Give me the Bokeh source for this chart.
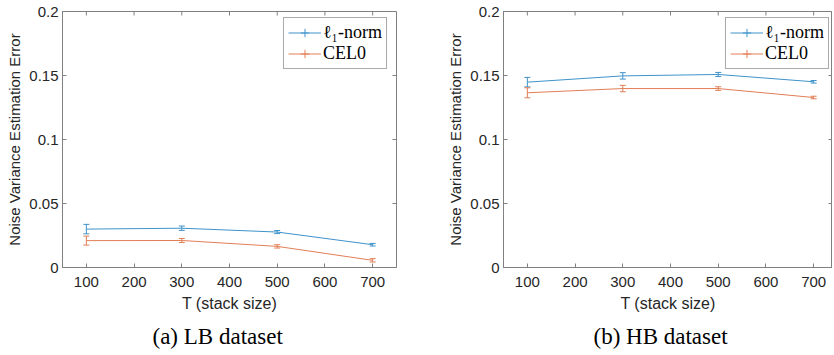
import math
from bokeh.plotting import figure
from bokeh.models import (ColumnDataSource, Whisker, TeeHead, Legend, LegendItem,
                          FixedTicker, Range1d, Title)
from bokeh.layouts import row
from bokeh.embed import file_html
from bokeh.resources import INLINE

# ---------------- data ----------------
T = [100, 300, 500, 700]
lb_l1 = [0.0300, 0.0307, 0.0277, 0.0178]
lb_l1_err = [0.0037, 0.0017, 0.0012, 0.0010]
lb_cel0 = [0.0210, 0.0211, 0.0165, 0.0056]
lb_cel0_err = [0.0035, 0.0016, 0.0013, 0.0013]
hb_l1 = [0.1448, 0.1497, 0.1508, 0.1451]
hb_l1_err = [0.0037, 0.0025, 0.0016, 0.0010]
hb_cel0 = [0.1365, 0.1398, 0.1398, 0.1328]
hb_cel0_err = [0.0039, 0.0025, 0.0014, 0.0010]
x_ticks = [100, 200, 300, 400, 500, 600, 700]
y_ticks = [0, 0.05, 0.1, 0.15, 0.2]
y_tick_labels = ["0", "0.05", "0.1", "0.15", "0.2"]
series_labels = ["\u2113\u2081-norm", "CEL0"]
captions = ["(a) LB dataset", "(b) HB dataset"]
x_label = "T (stack size)"
y_label = "Noise Variance Estimation Error"

BLUE = "#3f93cb"
ORANGE = "#e27e56"
AXIS = "#808080"
TEXT = "#262626"


def make_panel(caption, l1, l1e, cel, cele, frame_w, x_end, legend_x, border_right):
    x0, y0, y1 = 50, 0, 0.2
    p = figure(frame_width=frame_w, frame_height=256,
               x_range=Range1d(x0, x_end), y_range=Range1d(y0, y1),
               output_backend="svg", toolbar_location=None,
               min_border_left=62, min_border_right=border_right,
               min_border_top=11, min_border_bottom=86)
    p.xgrid.visible = False
    p.ygrid.visible = False
    p.outline_line_color = AXIS
    p.outline_line_width = 1
    p.background_fill_color = "white"
    p.border_fill_color = "white"

    p.xaxis.ticker = FixedTicker(ticks=x_ticks)
    p.yaxis.ticker = FixedTicker(ticks=y_ticks)
    p.yaxis.major_label_overrides = {t: s for t, s in zip(y_ticks, y_tick_labels)}
    for ax in (p.xaxis[0], p.yaxis[0]):
        ax.axis_line_color = AXIS
        ax.major_tick_line_color = AXIS
        ax.major_tick_in = 4
        ax.major_tick_out = 0
        ax.minor_tick_line_color = None
        ax.major_label_text_font = "Liberation Sans"
        ax.major_label_text_font_size = "15px"
        ax.major_label_text_color = TEXT
        ax.axis_label_text_font = "Liberation Sans"
        ax.axis_label_text_font_style = "normal"
        ax.axis_label_text_color = TEXT
    p.xaxis.major_label_standoff = 9
    p.yaxis.major_label_standoff = 4
    p.xaxis.axis_label = x_label
    p.xaxis.axis_label_text_font_size = "16px"
    p.xaxis.axis_label_standoff = 5
    p.yaxis.axis_label = y_label
    p.yaxis.axis_label_text_font_size = "15px"
    p.yaxis.axis_label_standoff = 3

    # box ticks on top and right edges (inward)
    p.ray(x=x_ticks, y=[y1] * len(x_ticks), length=4, length_units="screen",
          angle=-math.pi / 2, line_color=AXIS, line_width=1)
    p.ray(x=[x_end] * len(y_ticks), y=y_ticks, length=4, length_units="screen",
          angle=math.pi, line_color=AXIS, line_width=1)

    items = []
    for vals, errs, color, label in ((l1, l1e, BLUE, series_labels[0]),
                                      (cel, cele, ORANGE, series_labels[1])):
        src = ColumnDataSource(dict(x=T, y=vals,
                                    upper=[v + e for v, e in zip(vals, errs)],
                                    lower=[v - e for v, e in zip(vals, errs)]))
        lr = p.line("x", "y", source=src, line_color=color, line_width=1)
        w = Whisker(base="x", upper="upper", lower="lower", source=src,
                    dimension="height", line_color=color, line_width=1,
                    upper_head=TeeHead(size=6, line_color=color, line_width=1),
                    lower_head=TeeHead(size=6, line_color=color, line_width=1))
        p.add_layout(w)
        mr = p.scatter("x", "y", source=src, marker="cross", size=0,
                       line_color=color, line_width=1)
        items.append(LegendItem(label=label, renderers=[lr, mr]))

    leg = Legend(items=items, location=(legend_x, 198),
                 label_text_font="Liberation Serif", label_text_font_size="18px",
                 label_text_color="black", glyph_width=33, glyph_height=21,
                 label_height=21, label_standoff=2, padding=4, spacing=0,
                 margin=0, border_line_color="#555555", border_line_width=1,
                 background_fill_color="white", background_fill_alpha=1)
    p.add_layout(leg)

    p.add_layout(Title(text=caption, align="left", offset=90,
                       text_font="Liberation Serif", text_font_size="23px",
                       text_font_style="normal", text_color="black",
                       standoff=14), "below")
    return p


p1 = make_panel(captions[0], lb_l1, lb_l1_err, lb_cel0, lb_cel0_err,
                334, 750, 221, 45)
p2 = make_panel(captions[1], hb_l1, hb_l1_err, hb_cel0, hb_cel0_err,
                329, 50 + 329 * 700 / 334, 222, 0)

layout = row(p1, p2, spacing=0)
open("out.html", "w").write(file_html(layout, INLINE))
